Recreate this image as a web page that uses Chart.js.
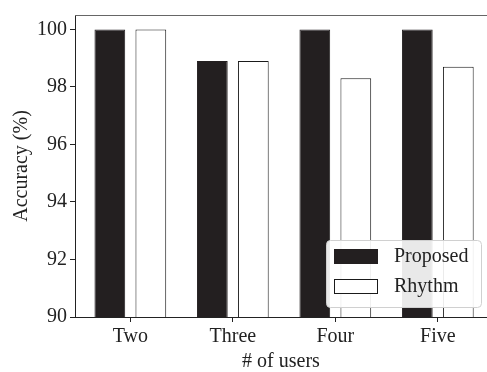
<!DOCTYPE html>
<html>
<head>
<meta charset="utf-8">
<script src="https://cdn.jsdelivr.net/npm/chart.js@4"></script>
<style>
  html, body { margin: 0; padding: 0; background: #fff; }
  #c { display: block; }
</style>
</head>
<body>
<canvas id="c" width="487" height="372"></canvas>
<script>
// Accuracy per number of users
const categories = ['Two', 'Three', 'Four', 'Five'];
const proposed = [100, 98.9, 100, 100];
const rhythm = [100, 98.9, 98.3, 98.7];
const yTicks = [90, 92, 94, 96, 98, 100];

const FONT = '"Liberation Serif", "Times New Roman", serif';
const INK = '#222';

// top spine of the axes box (the right one falls on the canvas edge)
const framePlugin = {
  id: 'frame',
  afterDraw(chart) {
    const { ctx, chartArea: a } = chart;
    ctx.save();
    ctx.strokeStyle = '#666';
    ctx.lineWidth = 1;
    ctx.beginPath();
    ctx.moveTo(a.left, a.top + 0.5);
    ctx.lineTo(a.right, a.top + 0.5);
    ctx.stroke();
    ctx.restore();
  }
};

// legend box in the lower right corner of the plot
const boxLegend = {
  id: 'boxLegend',
  afterDatasetsDraw(chart) {
    const { ctx, chartArea: a } = chart;
    const sets = chart.data.datasets;
    const w = 155, rowH = 30, pad = 9;
    const h = sets.length * rowH + 7;
    const x = a.right - 6 - w, y = a.bottom - 10 - h;
    ctx.save();
    ctx.fillStyle = 'rgba(255,255,255,0.9)';
    ctx.strokeStyle = '#d0d0d0';
    ctx.lineWidth = 1;
    ctx.beginPath();
    ctx.roundRect(x + 0.5, y + 0.5, w, h, 4);
    ctx.fill();
    ctx.stroke();
    ctx.font = '20px ' + FONT;
    ctx.textBaseline = 'middle';
    sets.forEach((ds, i) => {
      const py = y + pad + i * rowH;
      ctx.fillStyle = ds.backgroundColor;
      ctx.fillRect(x + 8, py, 44, 15);
      ctx.strokeStyle = ds.borderColor;
      ctx.lineWidth = 1;
      ctx.strokeRect(x + 8.5, py + 0.5, 43, 14);
      ctx.fillStyle = INK;
      ctx.fillText(ds.label, x + 68, py + 8);
    });
    ctx.restore();
  }
};

const toPoints = arr => arr.map((v, i) => ({ x: i, y: v }));

new Chart(document.getElementById('c'), {
  type: 'bar',
  data: {
    datasets: [
      {
        label: 'Proposed',
        data: toPoints(proposed),
        backgroundColor: '#231f20',
        borderColor: '#231f20',
        borderWidth: 1
      },
      {
        label: 'Rhythm',
        data: toPoints(rhythm),
        backgroundColor: '#ffffff',
        borderColor: '#1a1a1a',
        borderWidth: 1
      }
    ]
  },
  options: {
    responsive: false,
    devicePixelRatio: 1,
    animation: false,
    categoryPercentage: 0.8,
    barPercentage: 0.75,
    layout: { padding: { top: 13, right: 0, left: 0, bottom: 0 } },
    plugins: { legend: { display: false }, tooltip: { enabled: false } },
    scales: {
      x: {
        type: 'linear',
        offset: false,
        min: -0.54,
        max: 3.48,
        afterBuildTicks: axis => { axis.ticks = categories.map((_, i) => ({ value: i })); },
        afterFit: axis => { axis.height = 55; },
        grid: { display: true, offset: false, drawOnChartArea: false, drawTicks: true, tickLength: 5, tickColor: INK },
        border: { display: true, color: INK, width: 1 },
        ticks: {
          autoSkip: false,
          maxRotation: 0,
          padding: 3,
          color: INK,
          font: { family: FONT, size: 20 },
          callback: v => categories[v]
        },
        title: {
          display: true,
          text: '# of users',
          color: INK,
          font: { family: FONT, size: 20, lineHeight: 1 },
          padding: { top: 2, bottom: 0 }
        }
      },
      y: {
        type: 'linear',
        min: 90,
        max: 100.5,
        afterBuildTicks: axis => { axis.ticks = yTicks.map(v => ({ value: v })); },
        afterFit: axis => { axis.width = 75; },
        grid: { display: true, drawOnChartArea: false, drawTicks: true, tickLength: 5, tickColor: INK },
        border: { display: true, color: INK, width: 1 },
        ticks: {
          padding: 3,
          color: INK,
          font: { family: FONT, size: 20 }
        },
        title: {
          display: true,
          text: 'Accuracy (%)',
          color: INK,
          font: { family: FONT, size: 20 },
          padding: { top: 10, bottom: 0 }
        }
      }
    }
  },
  plugins: [framePlugin, boxLegend]
});
</script>
</body>
</html>
